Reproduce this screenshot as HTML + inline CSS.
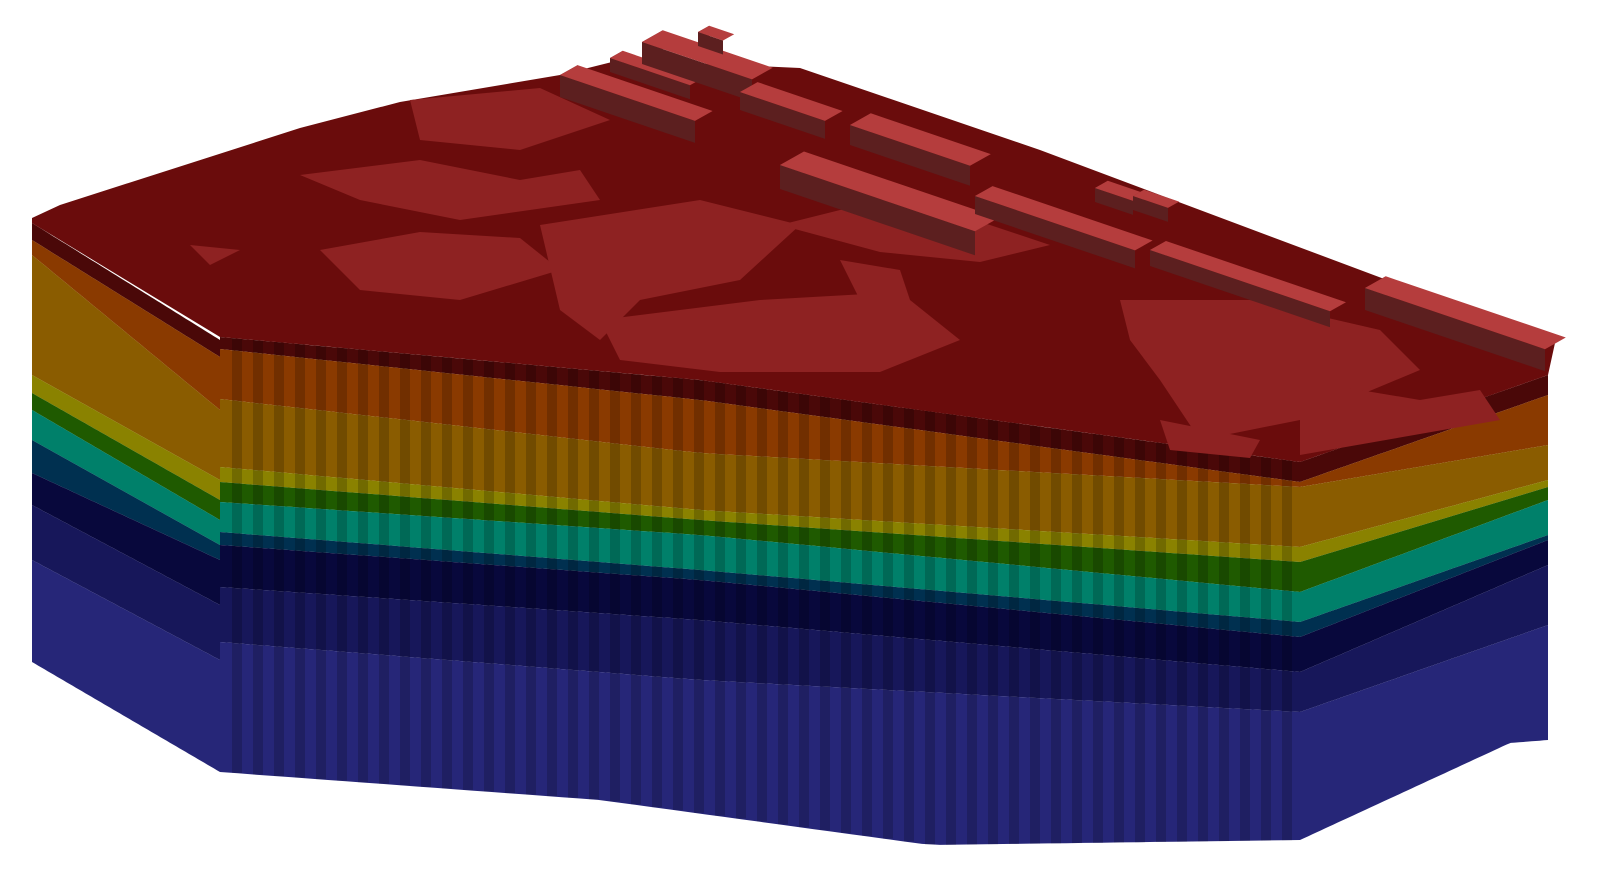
<!DOCTYPE html>
<html><head><meta charset="utf-8"><style>
html,body{margin:0;padding:0;background:#fff;}
svg{display:block;}
</style></head><body>
<svg id="scene" width="1600" height="874" viewBox="0 0 1600 874" xmlns="http://www.w3.org/2000/svg"></svg>
<script>
// layer colours (top to bottom)
const layerColors = ["#4a0808","#8a3a00","#8a5c00","#8a8200","#1f5a00","#00806a","#003050","#08083c","#17175a","#262678"];
// depth offsets (px below top edge) at stations along each face
const leftStart  = [0,17,32,152,170,187,217,250,282,337];
const leftEnd    = [0,17,70,140,160,180,205,220,265,320];
const frontStart = [0,12,62,130,145,165,195,208,250,305];
const frontMid   = [0,20,73,130,140,155,190,200,240,300];
const frontEnd   = [0,20,25,85,100,130,160,175,210,250];
const rightStart = [0,20,25,85,100,130,160,175,210,250];
const rightEnd   = [0,20,70,105,112,125,160,165,190,250];

const NS="http://www.w3.org/2000/svg";
const svg=document.getElementById('scene');
function poly(pts,fill,name){
  const p=document.createElementNS(NS,'polygon');
  p.setAttribute('points',pts.map(q=>q.map(v=>v.toFixed(1)).join(',')).join(' '));
  p.setAttribute('fill',fill);
  
  
  svg.appendChild(p);return p;
}
function lerp(a,b,t){return a+(b-a)*t;}
function pl(pts,x){
  for(let i=0;i<pts.length-1;i++){
    if(x<=pts[i+1][0]||i==pts.length-2){const t=(x-pts[i][0])/(pts[i+1][0]-pts[i][0]);return lerp(pts[i][1],pts[i+1][1],t);}
  }
}
// stations: [{x, top, depths}]
function face(st,bottom,name){
  const x0=st[0].x,x1=st[st.length-1].x,n=60;
  const topPts=st.map(s=>[s.x,s.top]);
  function depth(i,x){
    for(let k=0;k<st.length-1;k++){
      if(x<=st[k+1].x||k==st.length-2){const t=(x-st[k].x)/(st[k+1].x-st[k].x);return lerp(st[k].d[i],st[k+1].d[i],t);}
    }
  }
  const nL=st[0].d.length;
  for(let i=0;i<nL;i++){
    const top=[],bot=[];
    for(let k=0;k<=n;k++){
      const x=lerp(x0,x1,k/n), yt=pl(topPts,x), yb=pl(bottom,x);
      const d0=depth(i,x), d1=i+1<nL?depth(i+1,x):9999;
      top.push([x,Math.min(yt+d0,yb)]);
      bot.push([x,Math.min(yt+d1,yb)]);
    }
    poly(top.concat(bot.reverse()),layerColors[i],name+'-layer-'+i);
  }
}
const frontBottom=[[220,772],[600,800],[930,845],[1300,840]];
face([{x:32,top:223,d:leftStart},{x:220,top:340,d:leftEnd}],[[32,662],[220,772]],'left-face');
face([{x:220,top:337,d:frontStart},{x:700,top:380,d:frontMid},{x:1300,top:462,d:frontEnd}],frontBottom,'front-face');
face([{x:1300,top:462,d:rightStart},{x:1548,top:375,d:rightEnd}],[[1300,840],[1510,743],[1548,740]],'right-face');
// vertical column shading on front face
for(let x=232;x<1295;x+=21){
  const yt=pl([[220,337],[700,380],[1300,462]],x), yb=pl(frontBottom,x);
  const r=document.createElementNS(NS,'rect');
  r.setAttribute('x',x);r.setAttribute('y',yt);r.setAttribute('width',10);r.setAttribute('height',yb-yt);
  r.setAttribute('fill','rgba(0,0,0,0.18)');
  
  
  svg.appendChild(r);
}
// top surface
poly([[32,218],[60,205],[300,128],[400,102],[560,75],[620,60],[800,68],[1040,150],[1555,343],[1548,375],[1300,462],[700,380],[220,337],[32,223]],"#6a0c0c",'top-surface');
const patches=[
 [[300,175],[420,160],[520,180],[580,170],[600,200],[460,220],[360,200]],
 [[320,250],[420,232],[520,238],[560,270],[460,300],[360,290]],
 [[410,100],[540,88],[610,120],[520,150],[420,140]],
 [[540,225],[700,200],[800,225],[740,280],[640,300],[600,340],[560,310]],
 [[600,320],[760,300],[900,292],[960,340],[880,372],[720,372],[620,360]],
 [[780,225],[900,195],[1050,245],[980,262],[880,252]],
 [[1120,300],[1250,300],[1380,330],[1420,370],[1300,420],[1200,440],[1160,380],[1130,340]],
 [[1300,380],[1420,400],[1480,390],[1500,420],[1300,455]],
 [[1160,420],[1260,440],[1250,458],[1170,450]],
 [[840,260],[900,270],[910,300],[860,300]],
 [[190,245],[240,250],[210,265]]
];
patches.forEach((p,i)=>poly(p,"#8e2222",'light-patch-'+i));
function box(x,y,L,W,H,name){
  const A=[x,y],B=[x+L,y+L*0.34],D=[x+W*0.8,y-W*0.45],C=[B[0]+W*0.8,B[1]-W*0.45];
  poly([D,A,[A[0],A[1]+H],[D[0],D[1]+H]],"#83292c",name+'-end');
  poly([A,B,[B[0],B[1]+H],[A[0],A[1]+H]],"#5c1f1f",name+'-side');
  poly([A,B,C,D],"#b53d3d",name+'-top');
}
box(560,75,135,22,22,'ridge-a');
box(610,58,80,16,14,'ridge-b');
box(642,42,110,26,22,'ridge-c');
box(698,32,25,14,14,'ridge-d');
box(740,92,85,22,18,'ridge-e');
box(850,125,120,26,20,'ridge-f');
box(780,165,195,30,24,'ridge-g');
box(975,196,160,22,18,'ridge-h');
box(1095,188,38,16,14,'ridge-i');
box(1133,196,35,14,14,'ridge-j');
box(1150,250,180,20,16,'ridge-k');
box(1365,288,180,26,22,'ridge-l');
</script>
</body></html>
